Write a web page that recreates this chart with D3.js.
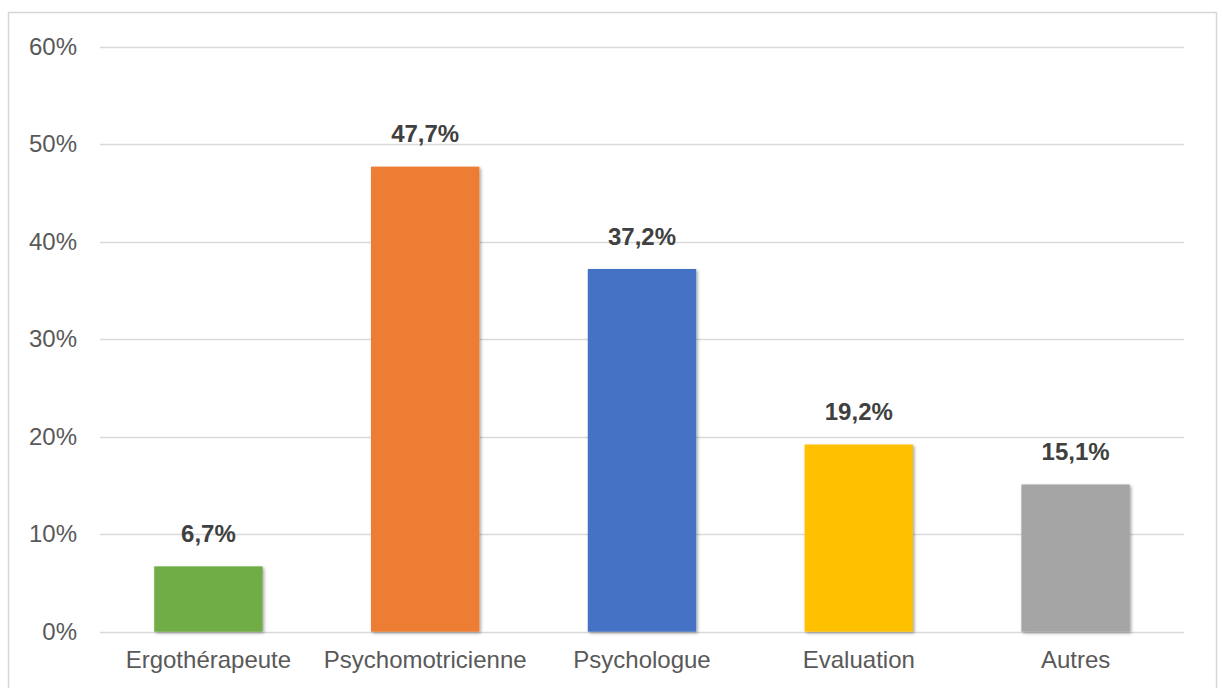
<!DOCTYPE html>
<html><head><meta charset="utf-8">
<script src="https://cdn.jsdelivr.net/npm/d3@7/dist/d3.min.js"></script>
<style>body{margin:0;background:#fff}svg{display:block}</style>
</head><body>
<script>
const categories = ["Ergothérapeute","Psychomotricienne","Psychologue","Evaluation","Autres"];
const values = [6.7, 47.7, 37.2, 19.2, 15.1];
const colors = ["#70AD47","#ED7D31","#4472C4","#FFC000","#A5A5A5"];
const yTicks = [0,10,20,30,40,50,60];

const W = 1222, H = 688;
const svg = d3.select("body").append("svg").attr("width", W).attr("height", H);
const defs = svg.append("defs");
const f = defs.append("filter").attr("id","sh").attr("x","-10%").attr("y","-10%").attr("width","130%").attr("height","130%");
f.append("feDropShadow").attr("dx",1.5).attr("dy",1.5).attr("stdDeviation",1.5).attr("flood-color","#000").attr("flood-opacity",0.35);

svg.append("rect").attr("x",8.5).attr("y",12.5).attr("width",1208).attr("height",700)
  .attr("fill","#fff").attr("stroke","#d6d6d6").attr("stroke-width",1.5);

const x = d3.scaleBand().domain(categories).range([100,1184]).paddingInner(0.5).paddingOuter(0.25);
const y = d3.scaleLinear().domain([0,60]).range([631.7,46.7]);

const font = "Liberation Sans, Arial, sans-serif";

// gridlines
svg.append("g").selectAll("line").data(yTicks).join("line")
  .attr("x1",100).attr("x2",1184)
  .attr("y1",d=>Math.round(y(d))+0.5).attr("y2",d=>Math.round(y(d))+0.5)
  .attr("stroke","#d9d9d9").attr("stroke-width",1.5);

// y axis labels
const yAxis = d3.axisLeft(y).tickValues(yTicks).tickFormat(d=>d+"%").tickSize(0).tickPadding(23);
const gy = svg.append("g").attr("transform","translate(100,0)").call(yAxis);
gy.select(".domain").remove();
gy.selectAll("text").attr("font-family",font).attr("font-size",24).attr("fill","#595959");

// bars
svg.append("g").selectAll("rect").data(values).join("rect")
  .attr("x",(d,i)=>x(categories[i]))
  .attr("width",x.bandwidth())
  .attr("y",d=>y(d))
  .attr("height",d=>y(0)-y(d))
  .attr("fill",(d,i)=>colors[i])
  .attr("filter","url(#sh)");

// value labels
svg.append("g").selectAll("text").data(values).join("text")
  .attr("x",(d,i)=>x(categories[i])+x.bandwidth()/2)
  .attr("y",d=>y(d)-24.5)
  .attr("text-anchor","middle")
  .attr("font-family",font).attr("font-size",24).attr("font-weight","bold").attr("fill","#404040")
  .text(d=>d.toFixed(1).replace(".",",")+"%");

// x axis labels
const xAxis = d3.axisBottom(x).tickSize(0).tickPadding(0);
const gx = svg.append("g").attr("transform","translate(0,631.7)").call(xAxis);
gx.select(".domain").remove();
gx.selectAll("text").attr("font-family",font).attr("font-size",24).attr("fill","#595959")
  .attr("dy",null).attr("y",36);
</script>
</body></html>
